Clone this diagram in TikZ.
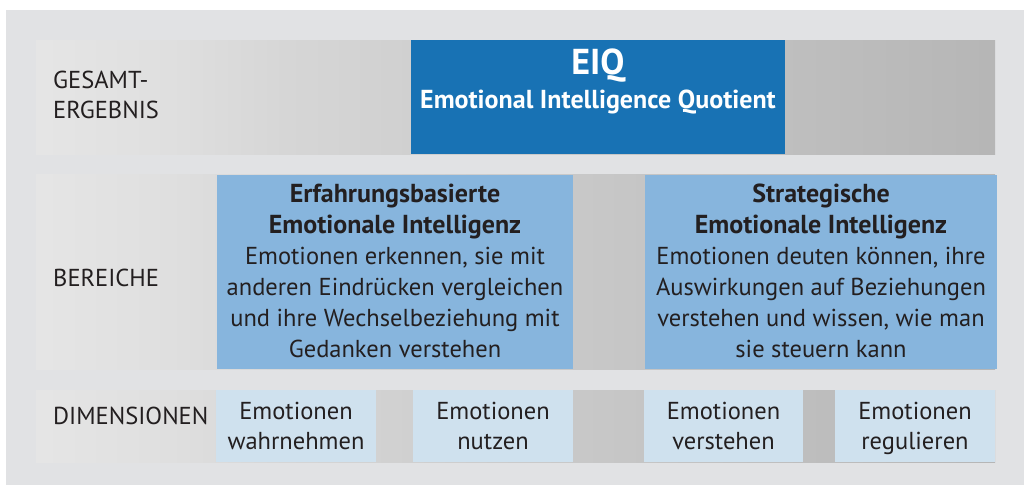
\documentclass[tikz,border=0pt]{standalone}
\usepackage{fontspec}
\setmainfont{PT Sans}

\definecolor{framegray}{RGB}{225,226,228}
\definecolor{eiqblue}{RGB}{24,114,180}
\definecolor{areablue}{RGB}{135,181,221}
\definecolor{dimblue}{RGB}{207,225,238}
\definecolor{ink}{RGB}{35,31,32}
% stops of the white-to-gray band shading
\definecolor{shA}{RGB}{242,242,242}
\definecolor{shB}{RGB}{232,232,232}
\definecolor{shC}{RGB}{223,223,223}
\definecolor{shD}{RGB}{214,214,214}
\definecolor{shE}{RGB}{195,195,195}
\definecolor{shF}{RGB}{176,176,176}
\definecolor{shG}{RGB}{163,163,163}
\pgfdeclarehorizontalshading{bandshade}{100bp}{%
  color(0bp)=(white); color(7bp)=(shA); color(22bp)=(shB);
  color(32bp)=(shC); color(38bp)=(shD); color(59bp)=(shE);
  color(82bp)=(shF); color(100bp)=(shG)}

% line with fixed height and depth, so descenders do not shift centring
\newcommand{\sline}[1]{\strut#1}
\newcommand{\areahdfont}{\fontsize{26}{31}\bfseries\selectfont}

\tikzset{
  band/.style={shading=bandshade, draw=none},
  cell/.style={draw=none, inner sep=0pt, outer sep=0pt, anchor=north west},
  lbl/.style={text=ink, font=\fontsize{24.5}{30}\selectfont, align=left, anchor=west, inner sep=0pt},
  areatext/.style={text=ink, font=\fontsize{24.5}{31}\selectfont, align=center, inner sep=0pt},
  dimtext/.style={text=ink, font=\fontsize{24.5}{30}\selectfont, align=center, inner sep=0pt},
}

\begin{document}
\begin{tikzpicture}[x=1pt,y=-1pt]
  \useasboundingbox (0,0) rectangle (1024,485);
  \fill[white] (0,0) rectangle (1024,485);
  \fill[framegray] (6,10) rectangle (1024,485);

  % three shaded bands
  \path[band] (36,40) rectangle (995,154);
  \path[band] (36,174) rectangle (995,369);
  \path[band] (36,390) rectangle (995,462);

  % overall result
  \node[cell, fill=eiqblue, minimum width=374pt, minimum height=114pt] (eiq) at (411,40) {};
  \node[text=white, font=\fontsize{36}{40}\bfseries\selectfont, inner sep=0pt] (eiqtitle) at (598,66) {EIQ};
  \node[text=white, font=\fontsize{26}{30}\bfseries\selectfont, inner sep=0pt] (eiqsub) at (598,102) {Emotional Intelligence Quotient};
  \node[lbl] (gesamt) at (53,97) {\sline{GESAMT-}\\\sline{ERGEBNIS}};

  % areas
  \node[lbl] (bereiche) at (53,278) {BEREICHE};
  \node[cell, fill=areablue, minimum width=356pt, minimum height=194pt] (erf) at (217,175) {};
  \node[areatext] (erftext) at ([yshift=-2pt]erf.center) {{\areahdfont\sline{Erfahrungsbasierte}}\\{\areahdfont\sline{Emotionale Intelligenz}}\\\sline{Emotionen erkennen, sie mit}\\\sline{anderen Eindrücken vergleichen}\\\sline{und ihre Wechselbeziehung mit}\\\sline{Gedanken verstehen}};
  \node[cell, fill=areablue, minimum width=352pt, minimum height=194pt] (strat) at (645,175) {};
  \node[areatext] (strattext) at ([yshift=-2pt]strat.center) {{\areahdfont\sline{Strategische}}\\{\areahdfont\sline{Emotionale Intelligenz}}\\\sline{Emotionen deuten können, ihre}\\\sline{Auswirkungen auf Beziehungen}\\\sline{verstehen und wissen, wie man}\\\sline{sie steuern kann}};

  % dimensions
  \node[lbl] (dimensionen) at (53,416) {DIMENSIONEN};
  \node[cell, fill=dimblue, minimum width=160pt, minimum height=72pt] (wahr) at (216,390) {};
  \node[dimtext] at ([yshift=-2pt]wahr.center) {\sline{Emotionen}\\\sline{wahrnehmen}};
  \node[cell, fill=dimblue, minimum width=160pt, minimum height=72pt] (nutz) at (413,390) {};
  \node[dimtext] at ([yshift=-2pt]nutz.center) {\sline{Emotionen}\\\sline{nutzen}};
  \node[cell, fill=dimblue, minimum width=159pt, minimum height=72pt] (verst) at (644,390) {};
  \node[dimtext] at ([yshift=-2pt]verst.center) {\sline{Emotionen}\\\sline{verstehen}};
  \node[cell, fill=dimblue, minimum width=160pt, minimum height=72pt] (regul) at (835,390) {};
  \node[dimtext] at ([yshift=-2pt]regul.center) {\sline{Emotionen}\\\sline{regulieren}};
\end{tikzpicture}
\end{document}
